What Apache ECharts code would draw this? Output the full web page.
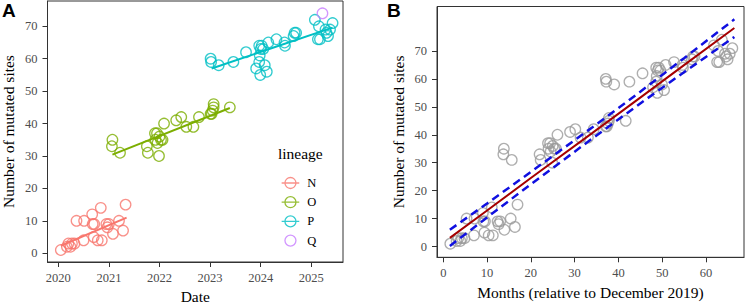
<!DOCTYPE html>
<html>
<head>
<meta charset="utf-8">
<script src="https://cdn.jsdelivr.net/npm/echarts@6/dist/echarts.min.js"></script>
<style>
html,body{margin:0;padding:0;background:#fff;}
#c{width:750px;height:306px;}
</style>
</head>
<body>
<div id="c"></div>
<script>
// ---- Data ----
const lineages = ['N', 'O', 'P', 'Q'];
const lineageColors = ['#F8766D', '#7CAE00', '#00BFC4', '#C77CFF'];

const nDate  = [2020.05,2020.17,2020.20,2020.24,2020.27,2020.32,2020.36,2020.50,2020.51,2020.67,2020.68,2020.71,2020.70,2020.78,2020.84,2020.86,2020.95,2021.00,2020.97,2021.08,2021.20,2021.28,2021.33];
const nSites = [1,2,3,2,3,3,10,4,10,12,9,9,5,4,14,4,9,9,8,6,10,7,15];

const oDate  = [2021.07,2021.06,2021.22,2021.75,2021.77,2021.91,2021.95,2021.92,2021.96,2021.99,2022.00,2022.03,2022.06,2022.09,2022.33,2022.43,2022.53,2022.67,2022.78,2023.01,2023.05,2023.07,2023.07,2023.03,2023.39];
const oSites = [35,33,31,33,31,37,37,35,34,30,36,35,35,40,41,42,39,39,42,43,44,45,46,43,45];

const pDate  = [2023.01,2023.02,2023.17,2023.46,2023.71,2023.91,2023.99,2023.97,2023.98,2024.00,2023.97,2024.02,2024.05,2024.08,2024.12,2024.15,2024.31,2024.47,2024.48,2024.65,2024.67,2024.70,2025.07,2025.15,2025.13,2025.17,2025.28,2025.30,2025.33,2025.37,2025.42];
const pSites = [60,59,58,59,62,57,55,59,61,63,64,64,63,58,56,65,66,65,64,67,68,68,72,70,66,66,69,68,67,69,71];

const qDate  = [2025.22];
const qSites = [74];

// per-lineage fitted lines (endpoints)
const nFitDate = [2020.05, 2021.35], nFitSites = [2.3, 11.0];
const oFitDate = [2021.07, 2023.39], oFitSites = [30.4, 44.8];
const pFitDate = [2023.03, 2025.42], pFitSites = [57.0, 69.6];

// Panel B: overall regression and its band
const bandMonths = [1.5, 10, 20, 34, 45, 55, 66.5];
const fitB       = [3.1, 12.9, 24.5, 40.6, 53.3, 64.9, 78.2];
const upperB     = [6.0, 15.4, 26.7, 42.6, 55.4, 67.4, 81.3];
const lowerB     = [0.2, 10.4, 22.3, 38.6, 51.2, 62.4, 75.0];

// tick labels
const xTicksA = [2020, 2021, 2022, 2023, 2024, 2025];
const yTicksA = [0, 10, 20, 30, 40, 50, 60, 70];
const xTicksB = [0, 10, 20, 30, 40, 50, 60];
const yTicksB = [0, 10, 20, 30, 40, 50, 60, 70];

// ---- Build ----
const zip = (a, b) => a.map((v, i) => [v, b[i]]);
const toMonths = d => (d - 2020) * 12 + 1; // months relative to December 2019

const SERIF = 'Liberation Serif';
const tickLabel = {color: '#4d4d4d', fontSize: 12.5, fontFamily: SERIF, formatter: v => String(v)};
const nameStyle = {color: '#000', fontSize: 15.5, fontFamily: SERIF};

function xAxis(grid, min, max, ticks, name) {
  return {
    type: 'value', gridIndex: grid, min: min, max: max,
    axisLine: {show: true, onZero: false, lineStyle: {color: '#333', width: 1}},
    splitLine: {show: false},
    axisTick: {show: true, length: 5, lineStyle: {color: '#333', width: 1}, customValues: ticks},
    axisLabel: Object.assign({customValues: ticks, margin: 9}, tickLabel),
    name: name, nameLocation: 'middle', nameGap: 26, nameTextStyle: nameStyle
  };
}
function yAxis(grid, min, max, ticks, name) {
  return {
    type: 'value', gridIndex: grid, min: min, max: max,
    axisLine: {show: true, onZero: false, lineStyle: {color: '#333', width: 1}},
    splitLine: {show: false},
    axisTick: {show: true, length: 5, lineStyle: {color: '#333', width: 1}, customValues: ticks},
    axisLabel: Object.assign({customValues: ticks, margin: 10}, tickLabel),
    name: name, nameLocation: 'middle', nameGap: 31, nameRotate: 90, nameTextStyle: nameStyle
  };
}

const ptsA = [zip(nDate, nSites), zip(oDate, oSites), zip(pDate, pSites), zip(qDate, qSites)];
const fitsA = [zip(nFitDate, nFitSites), zip(oFitDate, oFitSites), zip(pFitDate, pFitSites)];

const series = [];
ptsA.forEach((pts, i) => {
  series.push({
    name: lineages[i], type: 'scatter', xAxisIndex: 0, yAxisIndex: 0,
    data: pts, symbol: 'circle', symbolSize: 10.5, z: 2,
    itemStyle: {color: 'transparent', borderColor: lineageColors[i], borderWidth: 1.3},
    emphasis: {disabled: true}
  });
});
fitsA.forEach((f, i) => {
  series.push({
    name: lineages[i] + ' fit', type: 'line', xAxisIndex: 0, yAxisIndex: 0,
    data: f, showSymbol: false, symbol: 'none', z: 3,
    lineStyle: {color: lineageColors[i], width: 2}
  });
});

const allB = [];
[[nDate, nSites], [oDate, oSites], [pDate, pSites], [qDate, qSites]].forEach(([d, s]) => {
  d.forEach((v, i) => allB.push([toMonths(v), s[i]]));
});
series.push({
  name: 'all', type: 'scatter', xAxisIndex: 1, yAxisIndex: 1, data: allB,
  symbol: 'circle', symbolSize: 10.5, z: 2,
  itemStyle: {color: 'transparent', borderColor: '#9a9a9a', borderWidth: 1.3},
  emphasis: {disabled: true}
});
series.push({
  name: 'upper', type: 'line', xAxisIndex: 1, yAxisIndex: 1, data: zip(bandMonths, upperB),
  showSymbol: false, symbol: 'none', z: 3,
  lineStyle: {color: '#1010e0', width: 2.5, type: [8, 5]}
});
series.push({
  name: 'lower', type: 'line', xAxisIndex: 1, yAxisIndex: 1, data: zip(bandMonths, lowerB),
  showSymbol: false, symbol: 'none', z: 3,
  lineStyle: {color: '#1010e0', width: 2.5, type: [8, 5]}
});
series.push({
  name: 'fit', type: 'line', xAxisIndex: 1, yAxisIndex: 1, data: zip(bandMonths, fitB),
  showSymbol: false, symbol: 'none', z: 4,
  lineStyle: {color: '#a50000', width: 2}
});

const keyLine = 'path://M0,10L32,10M6,10A10,10,0,1,1,26,10A10,10,0,1,1,6,10Z';
const keyCircle = 'path://M6,10A10,10,0,1,1,26,10A10,10,0,1,1,6,10Z';

const option = {
  animation: false,
  backgroundColor: '#fff',
  title: [
    {text: 'A', left: 2, top: 1, padding: 0, textStyle: {fontSize: 19, fontWeight: 'bold', fontFamily: 'Liberation Sans', color: '#000'}},
    {text: 'B', left: 387, top: 1, padding: 0, textStyle: {fontSize: 19, fontWeight: 'bold', fontFamily: 'Liberation Sans', color: '#000'}},
    {text: 'lineage', left: 278, top: 145, padding: 0, textStyle: {fontSize: 15.5, fontWeight: 'normal', fontFamily: SERIF, color: '#000'}}
  ],
  legend: {
    orient: 'vertical', left: 281, top: 176.5, padding: 0,
    itemWidth: 17.6, itemHeight: 11, itemGap: 6.2, selectedMode: false,
    textStyle: {fontSize: 12.5, fontFamily: SERIF, color: '#000', padding: [0, 0, 0, 3]},
    data: lineages.map((n, i) => ({
      name: n, icon: i < 3 ? keyLine : keyCircle,
      itemStyle: {color: 'transparent', borderColor: lineageColors[i], borderWidth: 1.3}
    }))
  },
  grid: [
    {left: 47.5, top: 1, width: 295.5, height: 261, show: true, borderColor: '#333', borderWidth: 1, backgroundColor: 'transparent', outerBoundsMode: 'none', containLabel: false},
    {left: 437, top: 6.5, width: 307, height: 250.8, show: true, borderColor: '#333', borderWidth: 1, backgroundColor: 'transparent', outerBoundsMode: 'none', containLabel: false}
  ],
  xAxis: [
    xAxis(0, 2019.787, 2025.626, xTicksA, 'Date'),
    xAxis(1, -1.44, 68.7, xTicksB, 'Months (relative to December 2019)')
  ],
  yAxis: [
    yAxis(0, -2.7, 77.8, yTicksA, 'Number of mutated sites'),
    yAxis(1, -3.86, 85.9, yTicksB, 'Number of mutated sites')
  ],
  series: series
};

const chart = echarts.init(document.getElementById('c'), null, {renderer: 'svg'});
chart.setOption(option);
</script>
</body>
</html>
